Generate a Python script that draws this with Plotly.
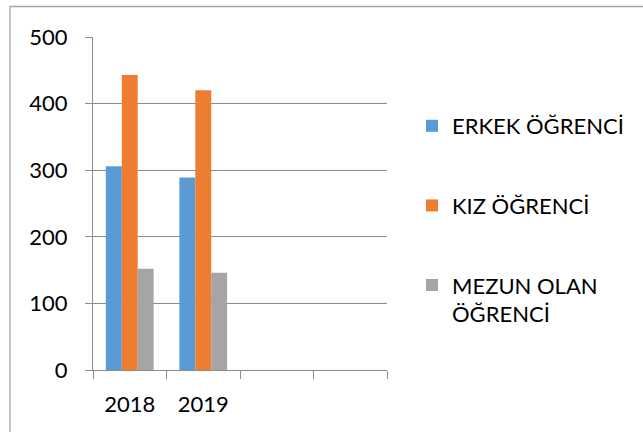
import plotly.graph_objects as go

categories = ["2018", "2019", " ", "  "]
erkek = [306, 289, None, None]
kiz = [443, 420, None, None]
mezun = [152, 146, None, None]
series_names = ["ERKEK ÖĞRENCİ", "KIZ ÖĞRENCİ", "MEZUN OLAN<br>ÖĞRENCİ"]
colors = ["#5B9BD5", "#ED7D31", "#A5A5A5"]
y_ticks = [0, 100, 200, 300, 400, 500]

FONT = "Lato"
W, H = 643, 432
ml, mr, mt, mb = 93, 256, 37, 62
pw = W - ml - mr
ph = H - mt - mb

fig = go.Figure()
for name, vals, col, grp in zip(series_names, [erkek, kiz, mezun], colors, ["a", "b", "c"]):
    fig.add_trace(go.Bar(x=categories, y=vals, name=name, marker_color=col,
                         marker_line_width=0, legendgroup=grp))

grid = "#8C8C8C"
fig.update_layout(
    width=W, height=H,
    margin=dict(l=ml, r=mr, t=mt, b=mb, pad=0),
    paper_bgcolor="white", plot_bgcolor="white",
    barmode="group", bargap=0.35, bargroupgap=0,
    font=dict(family=FONT, size=22, color="black"),
    xaxis=dict(type="category", categoryorder="array", categoryarray=categories,
               tickson="boundaries", ticks="outside", ticklen=8, tickcolor=grid,
               showline=True, linecolor=grid, linewidth=1, showgrid=False,
               ticklabelstandoff=15, tickfont=dict(size=22), zeroline=False,
               range=[-0.5, 3.5], automargin=False),
    yaxis=dict(range=[0, 500], tickvals=y_ticks, showgrid=True, gridcolor=grid,
               gridwidth=1, ticks="outside", ticklen=7, tickcolor=grid,
               showline=True, linecolor=grid, linewidth=1, zeroline=False,
               ticklabelstandoff=13, tickfont=dict(size=22), automargin=False),
    legend=dict(x=(412 - ml) / pw, xanchor="left", y=(370 - 105) / ph, yanchor="top",
                tracegroupgap=48, valign="top", font=dict(size=22),
                bgcolor="rgba(0,0,0,0)"),
    showlegend=True,
)

def px_x(p):
    return (p - ml) / pw

def px_y(p):
    return (H - mb - p) / ph

# Outer chart border (left and top edges visible in the crop)
fig.add_shape(type="rect", xref="paper", yref="paper",
              x0=px_x(10), x1=px_x(700), y0=px_y(6.5), y1=px_y(480),
              line=dict(color="#A6A6A6", width=1.3), fillcolor="rgba(0,0,0,0)",
              layer="below")

fig.write_html("out.html", config={"displayModeBar": False},
               post_script="document.body.style.margin='0';")
